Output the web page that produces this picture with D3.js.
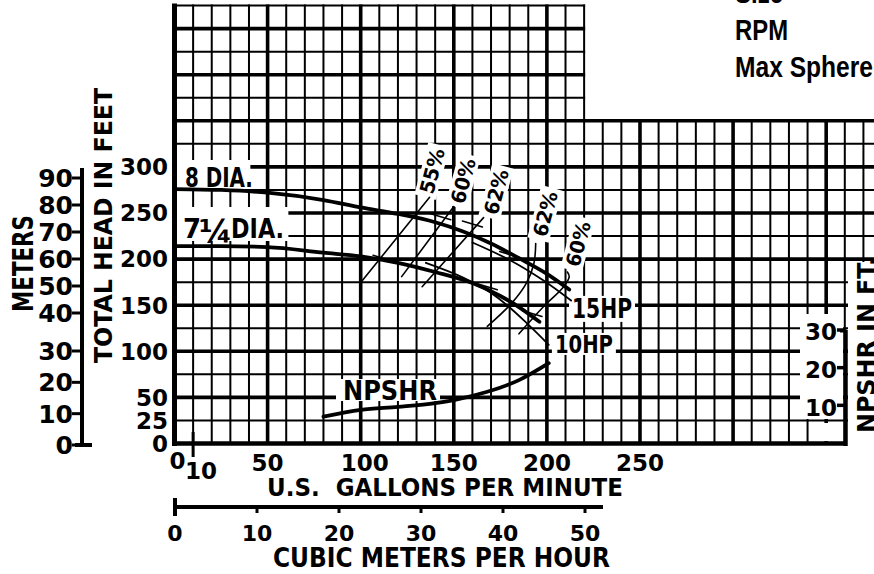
<!DOCTYPE html>
<html><head><meta charset="utf-8">
<script src="https://cdn.jsdelivr.net/npm/d3@7"></script>
<style>
html,body{margin:0;padding:0;background:#fff;overflow:hidden}
svg{display:block}
text{font-family:"DejaVu Sans",sans-serif;font-weight:bold;fill:#000}
text.hdr{font-family:"Liberation Sans",Arial,sans-serif}
</style>
</head><body>
<svg id="c" width="874" height="574"></svg>
<script>
// ---------- data ----------
const headTicks  = [0,25,50,100,150,200,250,300];
const gpmTicks   = [0,10,50,100,150,200,250];
const meterTicks = [0,10,20,30,40,50,60,70,80,90];
const cmhTicks   = [0,10,20,30,40,50];
const npshrTicks = [10,20,30];

// head curves (gpm, ft)
const dia8   = [[0,276],[25,275],[50,272],[80,264],[100,256],[120,249],[140,240],[155,230],[170,217],[185,201],[200,184],[212,167]];
const dia714 = [[0,214],[25,214],[50,213],[80,207],[100,203],[120,196],[140,186],[160,174],[175,160],[185,148],[196,132]];
// horsepower lines (gpm, ft)
const hp15 = [[160,218],[180,199],[198,177],[213,155]];
const hp10 = [[135,196],[155,180],[173,159],[190,129],[201,107]];
// NPSHR (gpm, ft of NPSHR)
const npshr = [[80,7],[100,8.8],[120,9.6],[140,10.6],[150,11.4],[168,13.6],[185,16.7],[201,21.2]];
// efficiency curves (gpm, ft)
const eff55  = [[101,177],[137,267]];
const eff60L = [[122,181],[150,257]];
const eff62L = [[133,170],[166,245]];
const eff62R = [[168,127],[181,152],[189,174],[193,195],[194,217]];
const eff60R = [[185,119],[198,148],[209,170],[212,181],[211,186]];
const effLabels = [["55%",138.3,295.6],["60%",154.9,284.8],["62%",172.7,272.9],["62%",199,249],["60%",216.7,216.4]];
// short cross marks on the curves (gpm, ft)
const effMarks = [[112,201],[143,246],[160,238],[180,205],[168,170],[192,141]];

// ---------- scales ----------
const svg = d3.select("#c");
const x  = d3.scaleLinear().domain([0,360]).range([174.5, 844.8]);
const y  = d3.scaleLinear().domain([0,475]).range([443.5, 5.55]);
const yN = d3.scaleLinear().domain([0,30]).range([443,330]);
const yM = d3.scaleLinear().domain([0,30,40,90]).range([445,351,313,178]);
const xC = d3.scaleLinear().domain([0,50]).range([175,585]);

const INK = "#000";
const CH = 0.365; // half cap-height factor
function ln(g,x1,y1,x2,y2,w){ g.append("line").attr("x1",x1).attr("y1",y1).attr("x2",x2).attr("y2",y2).attr("stroke",INK).attr("stroke-width",w); }
function whiteBox(g,x0,y0,w,h,tr){ const r=g.append("rect").attr("x",x0).attr("y",y0).attr("width",w).attr("height",h).attr("fill","#fff"); if(tr) r.attr("transform",tr); }

// ---------- grid ----------
const grid = svg.append("g");
for(let g=10; g<=380; g+=10){
  const top = g<=220 ? 475 : 350;
  ln(grid, x(g), y(0), x(g), y(top)-1, g%50===0 ? 3.6 : 2);
}
for(let f=25; f<=475; f+=25){
  const right = f<=350 ? 385 : 220;
  ln(grid, x(0), y(f), x(right)+1, y(f), f%50===0 ? 3.6 : 2);
}

// ---------- white label backgrounds ----------
const wb = svg.append("g");
whiteBox(wb, 848, 262, 30, 190);            // NPSHR IN FT. strip
whiteBox(wb, 800, 314, 43, 105);            // NPSHR tick labels
whiteBox(wb, 813, 423, 30, 18);
whiteBox(wb, x(1), 160, 74, 29);            // 8 DIA.
whiteBox(wb, x(1), 207, 112, 34);           // 7 1/4 DIA.
whiteBox(wb, x(213.5)-3, y(146)-13, 66, 26);   // 15HP
whiteBox(wb, x(204.3)-3, y(108)-11, 64, 22);   // 10HP
whiteBox(wb, x(90.5)-7, y(58)-11, 104, 22);    // NPSHR
effLabels.forEach(d=>{
  whiteBox(wb, -27, -11, 54, 22, `translate(${x(d[1])},${y(d[2])}) rotate(-75)`);
});

// ---------- axes ----------
const ax = svg.append("g");
ln(ax, x(0), y(475)-2, x(0), 446, 5);            // left axis
ln(ax, 172, y(0), 847, y(0), 4.5);               // bottom axis
ln(ax, x(10), 432, x(10), 457, 3);               // 10 gpm tick

// head labels
headTicks.forEach(v=>{
  ax.append("text").attr("x",168).attr("y",y(v)+CH*23).attr("text-anchor","end")
    .attr("font-size",23).text(v);
});
// gpm labels
gpmTicks.forEach(v=>{
  const dx = v===0 ? 3 : (v===10 ? 8 : (v===100 ? 4 : 0));
  const cy = v===0 ? 461 : (v===10 ? 471 : 463);
  ax.append("text").attr("x",x(v)+dx).attr("y",cy+CH*23).attr("text-anchor","middle")
    .attr("font-size",23).text(v);
});
ax.append("text").attr("x",267).attr("y",496).attr("font-size",25)
  .attr("textLength",356).attr("lengthAdjust","spacingAndGlyphs")
  .style("white-space","pre").text("U.S.  GALLONS PER MINUTE");

// cubic meters per hour axis
ln(ax, xC(0), 507, 603, 507, 4);
ln(ax, xC(0), 498, xC(0), 516, 4);
cmhTicks.forEach(v=>{
  if(v>0) ln(ax, xC(v), 507, xC(v), 513, 3);
  ax.append("text").attr("x",xC(v)).attr("y",533+CH*22).attr("text-anchor","middle")
    .attr("font-size",22).text(v);
});
ax.append("text").attr("x",273).attr("y",567).attr("font-size",26)
  .attr("textLength",337).attr("lengthAdjust","spacingAndGlyphs").text("CUBIC METERS PER HOUR");

// meters axis
ln(ax, 82, yM(90)-10, 82, 446, 4);
ln(ax, 75, 445, 92, 445, 4);
meterTicks.forEach(v=>{
  ln(ax, 72, yM(v), 82, yM(v), 3);
  ax.append("text").attr("x",73).attr("y",yM(v)+CH*25).attr("text-anchor","end")
    .attr("font-size",25).text(v);
});
ax.append("text").attr("transform","translate(33,312) rotate(-90)").attr("font-size",28)
  .attr("textLength",97).attr("lengthAdjust","spacingAndGlyphs").text("METERS");
ax.append("text").attr("transform","translate(112,363) rotate(-90)").attr("font-size",24)
  .attr("textLength",275).attr("lengthAdjust","spacingAndGlyphs").text("TOTAL HEAD IN FEET");

// NPSHR axis
ln(ax, 845.5, yN(30), 845.5, 446, 4.5);
ln(ax, 840, yN(30)+1, 847, yN(30)+1, 3);
npshrTicks.forEach(v=>{
  ln(ax, 837, yN(v), 845, yN(v), 3.5);
  ax.append("text").attr("x",837).attr("y",yN(v)+2+CH*23).attr("text-anchor","end")
    .attr("font-size",23).text(v);
});
ax.append("text").attr("transform","translate(875,433) rotate(-90)").attr("font-size",24)
  .attr("textLength",176).attr("lengthAdjust","spacingAndGlyphs").text("NPSHR IN FT.");

// ---------- curves ----------
const cv = svg.append("g").attr("fill","none").attr("stroke",INK).attr("stroke-linecap","round");
const lineH = d3.line().x(d=>x(d[0])).y(d=>y(d[1])).curve(d3.curveMonotoneX);
const lineE = d3.line().x(d=>x(d[0])).y(d=>y(d[1])).curve(d3.curveCatmullRom);
const lineN = d3.line().x(d=>x(d[0])).y(d=>yN(d[1])).curve(d3.curveMonotoneX);
cv.append("path").attr("d",lineH(dia8)).attr("stroke-width",3.8);
cv.append("path").attr("d",lineH(dia714)).attr("stroke-width",3.8);
cv.append("path").attr("d",lineE(hp15)).attr("stroke-width",1.8);
cv.append("path").attr("d",lineE(hp10)).attr("stroke-width",1.8);
[eff55,eff60L,eff62L,eff62R,eff60R].forEach(e=>{
  cv.append("path").attr("d",lineE(e)).attr("stroke-width",1.6);
});
cv.append("path").attr("d",lineN(npshr)).attr("stroke-width",3.8);
effMarks.forEach(d=>{
  cv.append("line").attr("x1",x(d[0])-10).attr("y1",y(d[1])-3).attr("x2",x(d[0])+10).attr("y2",y(d[1])+3)
    .attr("stroke-width",1.5);
});

// ---------- labels ----------
const lb = svg.append("g");
lb.append("text").attr("x",x(5.6)).attr("y",187).attr("font-size",26)
  .attr("textLength",68).attr("lengthAdjust","spacingAndGlyphs").text("8 DIA.");
lb.append("text").attr("x",x(4.6)).attr("y",238).attr("font-size",26).text("7");
lb.append("text").attr("x",x(4.6)+16).attr("y",243).attr("font-size",32).text("¼");
lb.append("text").attr("x",x(4.6)+48).attr("y",238).attr("font-size",26)
  .attr("textLength",53).attr("lengthAdjust","spacingAndGlyphs").text("DIA.");
lb.append("text").attr("x",x(213.5)).attr("y",y(146)+CH*26).attr("font-size",26)
  .attr("textLength",60).attr("lengthAdjust","spacingAndGlyphs").text("15HP");
lb.append("text").attr("x",x(204.3)).attr("y",y(108)+CH*24).attr("font-size",24)
  .attr("textLength",58).attr("lengthAdjust","spacingAndGlyphs").text("10HP");
lb.append("text").attr("x",x(90.5)).attr("y",y(58)+CH*26).attr("font-size",26)
  .attr("textLength",94).attr("lengthAdjust","spacingAndGlyphs").text("NPSHR");
effLabels.forEach(d=>{
  lb.append("text").attr("transform",`translate(${x(d[1])},${y(d[2])}) rotate(-75)`)
    .attr("y",CH*20).attr("text-anchor","middle").attr("font-size",20)
    .attr("textLength",46).attr("lengthAdjust","spacingAndGlyphs").text(d[0]);
});

// top right header text
[["Size",3,48],["RPM",40,53],["Max Sphere",77,138]].forEach(d=>{
  lb.append("text").attr("class","hdr").attr("x",735).attr("y",d[1]).attr("font-size",30)
    .attr("textLength",d[2]).attr("lengthAdjust","spacingAndGlyphs").text(d[0]);
});
</script>
</body></html>
